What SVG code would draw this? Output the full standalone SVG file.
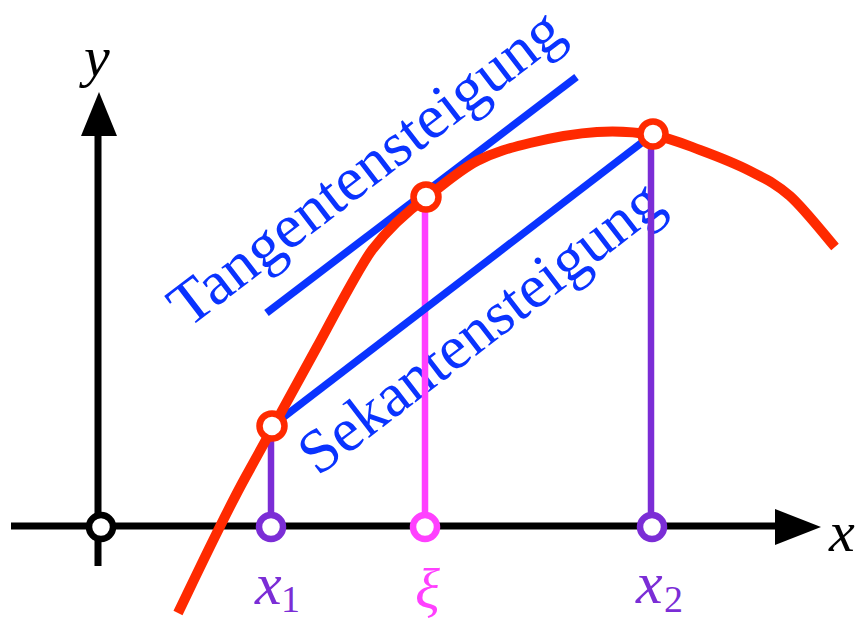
<svg xmlns="http://www.w3.org/2000/svg" width="859" height="622" viewBox="0 0 859 622">
<style>
.ax{stroke:#000;stroke-width:7;fill:none}
.blue{stroke:#0a33ff;stroke-width:7.5;fill:none}
.red{stroke:#ff2a00;stroke-width:10;fill:none}
.pur{stroke:#7b2dd6;stroke-width:6.5}
.mag{stroke:#ff40ff;stroke-width:6.5}
.pt{fill:#fff;stroke-width:6.5}
text{font-family:Liberation Serif, Tinos, Times New Roman, Times, serif}
.it{font-style:italic}
</style>
<rect width="859" height="622" fill="#fff"/>
<g id="axes">
<line class="ax" x1="11" y1="526" x2="778" y2="526"/>
<polygon points="775,509 821,527 775,545" fill="#000"/>
<line class="ax" x1="98" y1="566" x2="98" y2="132"/>
<polygon points="81,136 99,92 117,136" fill="#000"/>
<text class="it" x="84" y="76" font-size="58">y</text>
<text class="it" x="829" y="551" font-size="58">x</text>
</g>
<g id="labels" font-size="62" fill="#0a33ff">
<text transform="translate(188,329) rotate(-37.5)" textLength="478" lengthAdjust="spacingAndGlyphs">Tangentensteigung</text>
<text transform="translate(318,477) rotate(-37.5)" textLength="440" lengthAdjust="spacingAndGlyphs">Sekantensteigung</text>
</g>
<g id="connectors">
<line class="pur" x1="271" y1="426" x2="271" y2="526"/>
<line class="mag" x1="425" y1="197" x2="425" y2="526"/>
<line class="pur" x1="651" y1="134" x2="651" y2="526"/>
<line class="blue" x1="266.5" y1="313" x2="576.5" y2="77"/>
<line class="blue" x1="272" y1="426" x2="653" y2="134"/>
<path class="red" d="M178,613 C188.8,590.8 222,520 245,478 C268,436 297,384 317,347 C337,310 360,266 372,250 C388,229 405,213 427,197 C442.7,185.2 459.8,170 477,161 C494.2,152 510,147.8 530,143 C550,138.2 576.5,133.3 597,132 C617.5,130.7 635.8,132 653,135 C670.2,138 683.8,144 700,150 C716.2,156 735,163.3 750,171 C765,178.7 775.8,183.3 790,196 C804.2,208.7 827.5,238.5 835,247"/>
</g>
<g id="origin"><circle class="pt" cx="101" cy="527" r="12" stroke="#000"/></g>
<g id="x1" fill="#7b2dd6">
<circle class="pt" cx="271" cy="527" r="12" stroke="#7b2dd6"/>
<circle class="pt" cx="272" cy="426" r="12.5" stroke="#ff2a00"/>
<text class="it" x="255" y="604" font-size="60">x</text>
<text x="281" y="612" font-size="38">1</text>
</g>
<g id="xi" fill="#ff40ff">
<circle class="pt" cx="425" cy="527" r="12" stroke="#ff40ff"/>
<circle class="pt" cx="426" cy="197" r="12.5" stroke="#ff2a00"/>
<text class="it" x="415" y="608" font-size="58">ξ</text>
</g>
<g id="x2" fill="#7b2dd6">
<circle class="pt" cx="652" cy="527" r="12" stroke="#7b2dd6"/>
<circle class="pt" cx="653" cy="134" r="12.5" stroke="#ff2a00"/>
<text class="it" x="636" y="603" font-size="60">x</text>
<text x="664" y="612" font-size="38">2</text>
</g>
</svg>
